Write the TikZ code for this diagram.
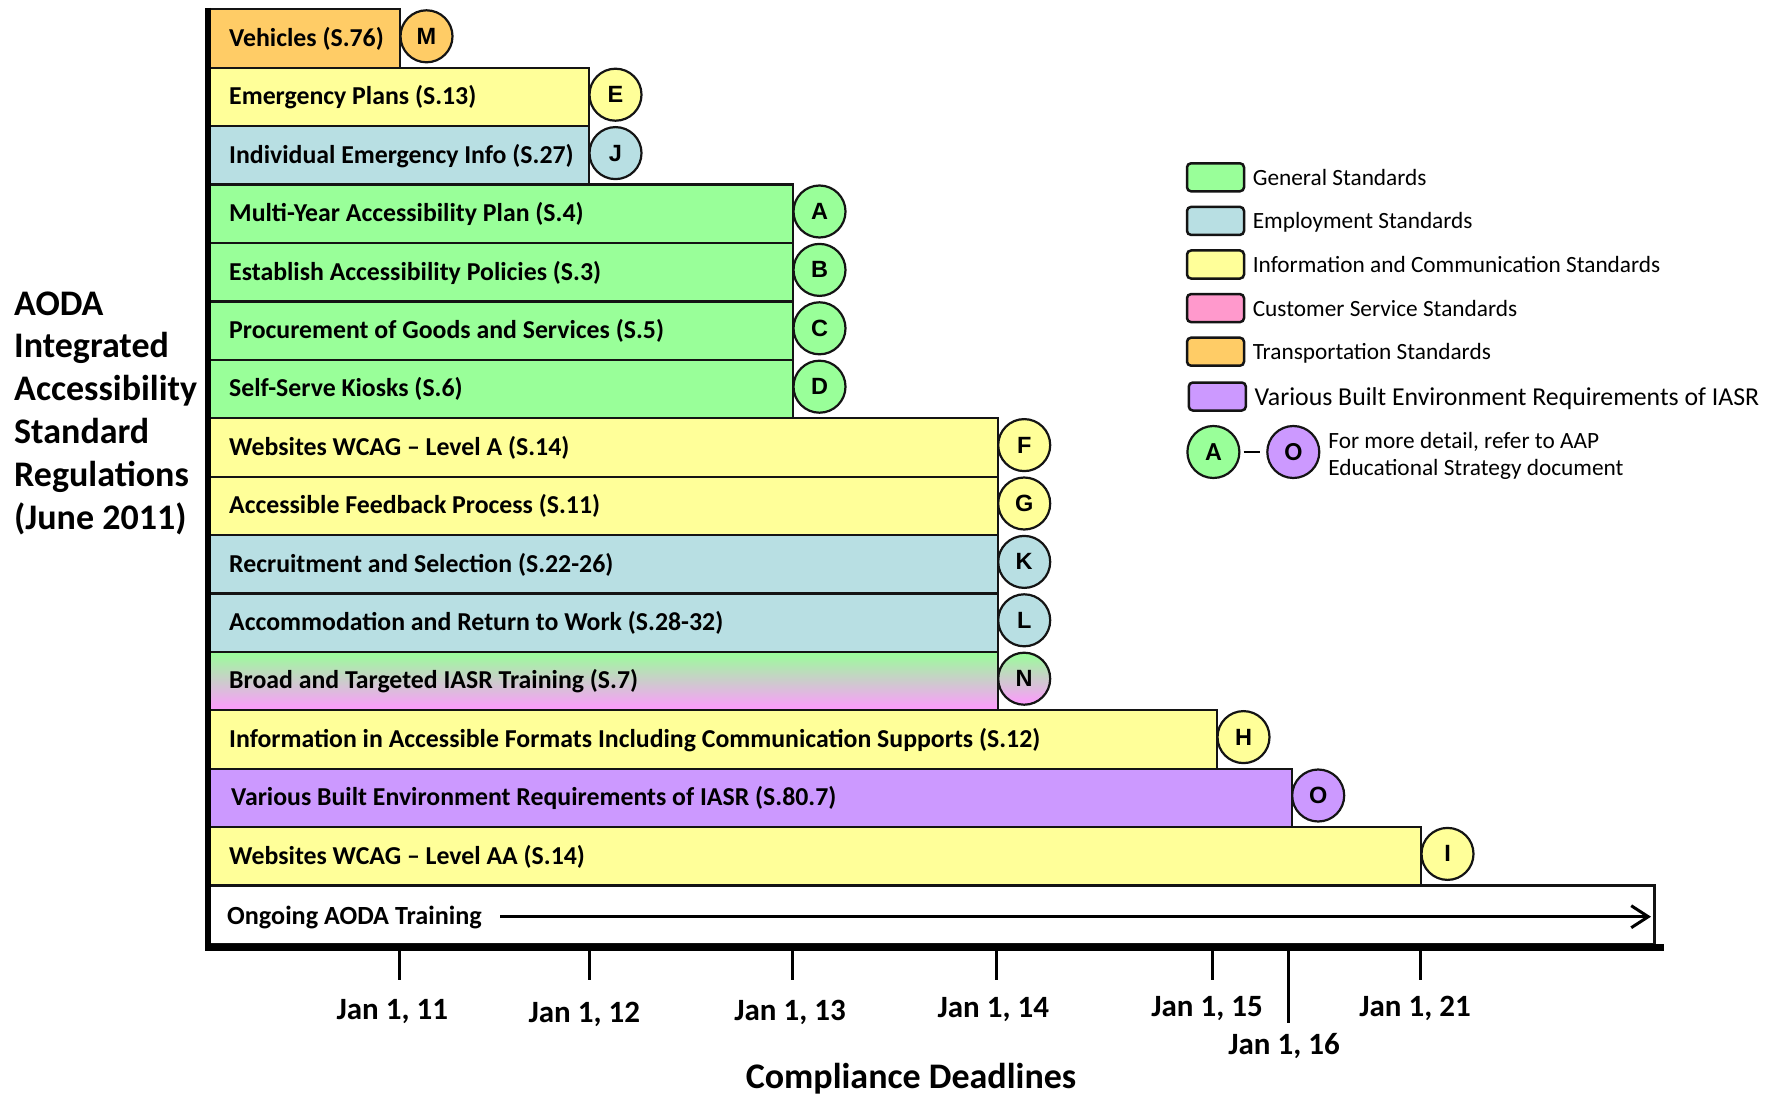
\documentclass[tikz,border=0pt]{standalone}
\usepackage{fontspec}
\setmainfont{Carlito}
\newfontfamily\arialf{Liberation Sans}
\usetikzlibrary{arrows.meta}
\definecolor{cgen}{RGB}{153,255,153}
\definecolor{cemp}{RGB}{184,223,227}
\definecolor{cinf}{RGB}{255,255,153}
\definecolor{ccus}{RGB}{255,153,204}
\definecolor{ctra}{RGB}{255,204,102}
\definecolor{cvar}{RGB}{204,153,255}
\definecolor{cnpk}{RGB}{255,153,255}
\definecolor{edge}{RGB}{20,20,20}
\begin{document}
\begin{tikzpicture}[x=1pt,y=-1pt,
  bar/.style={draw=edge, line width=2.2pt, rectangle, inner sep=0pt, minimum height=58.4pt, anchor=north west},
  barlbl/.style={anchor=base west, inner sep=0pt, font=\bfseries\fontsize{25.8}{30}\selectfont},
  badge/.style={draw=edge, line width=2.2pt, circle, inner sep=0pt, minimum size=52pt, font=\arialf\bfseries\fontsize{23.5}{23.5}\selectfont},
  ticklbl/.style={anchor=base, inner sep=0pt, font=\bfseries\fontsize{31}{35}\selectfont},
  titlelbl/.style={anchor=base west, inner sep=0pt, font=\bfseries\fontsize{36}{40}\selectfont},
  legbox/.style={draw=edge, line width=2.5pt, rectangle, rounded corners=4pt, minimum width=57pt, minimum height=28pt, inner sep=0pt},
  leglbl/.style={anchor=base west, inner sep=0pt, font=\fontsize{23.3}{27}\selectfont},
  tickline/.style={line width=3pt, draw=black}
]
\useasboundingbox (0,0) rectangle (1778,1094);

% bars
\foreach \i/\r/\c/\t/\l/\tx in {
  0/399/ctra/Vehicles (S.76)/M/229,
  1/588/cinf/Emergency Plans (S.13)/E/229,
  2/588/cemp/Individual Emergency Info (S.27)/J/229,
  3/792/cgen/Multi-Year Accessibility Plan (S.4)/A/229,
  4/792/cgen/Establish Accessibility Policies (S.3)/B/229,
  5/792/cgen/Procurement of Goods and Services (S.5)/C/229,
  6/792/cgen/Self-Serve Kiosks (S.6)/D/229,
  7/996.7/cinf/Websites WCAG – Level A (S.14)/F/229,
  8/996.7/cinf/Accessible Feedback Process (S.11)/G/229,
  9/996.7/cemp/Recruitment and Selection (S.22-26)/K/229,
  10/996.7/cemp/Accommodation and Return to Work (S.28-32)/L/229,
  12/1216/cinf/Information in Accessible Formats Including Communication Supports (S.12)/H/229,
  13/1290.7/cvar/Various Built Environment Requirements of IASR (S.80.7)/O/231,
  14/1420/cinf/Websites WCAG – Level AA (S.14)/I/229}{
  \node[bar, fill=\c, minimum width={\r-208}] (b\i) at ({208},{8.3+58.4*\i}) {};
  \node[barlbl] (t\i) at ({\tx},{8.3+58.4*\i+29.2+9}) {\t};
  \node[badge, fill=\c] (c\i) at ({\r+27.5},{8.3+58.4*\i+28}) {\l};
}
% gradient bar N
\node[bar, top color=cgen, bottom color=cnpk, minimum width={996.7-208}] (b11) at ({208},{8.3+58.4*11}) {};
\node[barlbl] (t11) at ({229},{8.3+58.4*11+29.2+9}) {Broad and Targeted IASR Training (S.7)};
\node[badge, top color=cgen, bottom color=cnpk] (c11) at ({996.7+27.5},{8.3+58.4*11+28}) {N};

% ongoing training
\node[bar, fill=white, minimum width={1653.3-208}] (b15) at ({208},{8.3+58.4*15}) {};
\node[barlbl, font=\bfseries\fontsize{26.2}{30}\selectfont] (t15) at ({227},{8.3+58.4*15+29.2+11}) {Ongoing AODA Training};
\coordinate (ogs) at (500,916.7);
\coordinate (oge) at (1651,916.7);
\draw[line width=3pt, -{Straight Barb[length=17pt,width=22pt]}] (ogs) -- (oge);

% axes
\coordinate (axtop) at (208,8);
\coordinate (axbot) at (208,950.5);
\coordinate (axl) at (205,947);
\coordinate (axr) at (1664,947);
\draw[line width=6pt] (axtop) -- (axbot);
\draw[line width=7pt] (axl) -- (axr);

% ticks
\foreach \n/\x/\e in {11/399/980, 12/589.3/980, 13/792.3/980, 14/996/980, 15/1212.3/980, 16/1288.8/1023, 21/1420.5/980}{
  \coordinate (ka\n) at (\x,950);
  \coordinate (kb\n) at (\x,\e);
  \draw[tickline] (ka\n) -- (kb\n);
}
\node[ticklbl] (l11) at (392.3,1019.5) {Jan 1, 11};
\node[ticklbl] (l12) at (584.3,1022) {Jan 1, 12};
\node[ticklbl] (l13) at (790,1020.5) {Jan 1, 13};
\node[ticklbl] (l14) at (993.3,1017.8) {Jan 1, 14};
\node[ticklbl] (l15) at (1207,1016) {Jan 1, 15};
\node[ticklbl] (l16) at (1284,1054.5) {Jan 1, 16};
\node[ticklbl] (l21) at (1415,1016.5) {Jan 1, 21};
\node[anchor=base, inner sep=0pt, font=\bfseries\fontsize{36}{40}\selectfont] (xlab) at (911,1088) {Compliance Deadlines};

% title
\node[titlelbl] (ti1) at (14,315) {AODA};
\node[titlelbl] (ti2) at (14,357.8) {Integrated};
\node[titlelbl] (ti3) at (14,400.6) {Accessibility};
\node[titlelbl] (ti4) at (14,443.4) {Standard};
\node[titlelbl] (ti5) at (14,486.2) {Regulations};
\node[titlelbl] (ti6) at (14,529) {(June 2011)};

% legend
\foreach \k/\c/\t in {0/cgen/General Standards, 1/cemp/Employment Standards, 2/cinf/Information and Communication Standards, 3/ccus/Customer Service Standards, 4/ctra/Transportation Standards}{
  \node[legbox, fill=\c] (g\k) at ({1215.5},{177.3+43.6*\k}) {};
  \node[leglbl] (gt\k) at ({1252.6},{177.3+43.6*\k+8}) {\t};
}
\node[legbox, fill=cvar] (g5) at (1217.3,396.5) {};
\node[leglbl, font=\fontsize{25.8}{29}\selectfont] (gt5) at (1254.5,405.5) {Various Built Environment Requirements of IASR};
\node[badge, fill=cgen, font=\bfseries\fontsize{26}{26}\selectfont] (lA) at (1213.4,452) {A};
\node[badge, fill=cvar, font=\bfseries\fontsize{26}{26}\selectfont] (lO) at (1293.3,452) {O};
\draw[line width=2.5pt, shorten <=3pt, shorten >=6pt] (lA) -- (lO);
\node[leglbl] (d1) at (1328.2,448) {For more detail, refer to AAP};
\node[leglbl] (d2) at (1328.2,475.5) {Educational Strategy document};
\end{tikzpicture}
\end{document}
